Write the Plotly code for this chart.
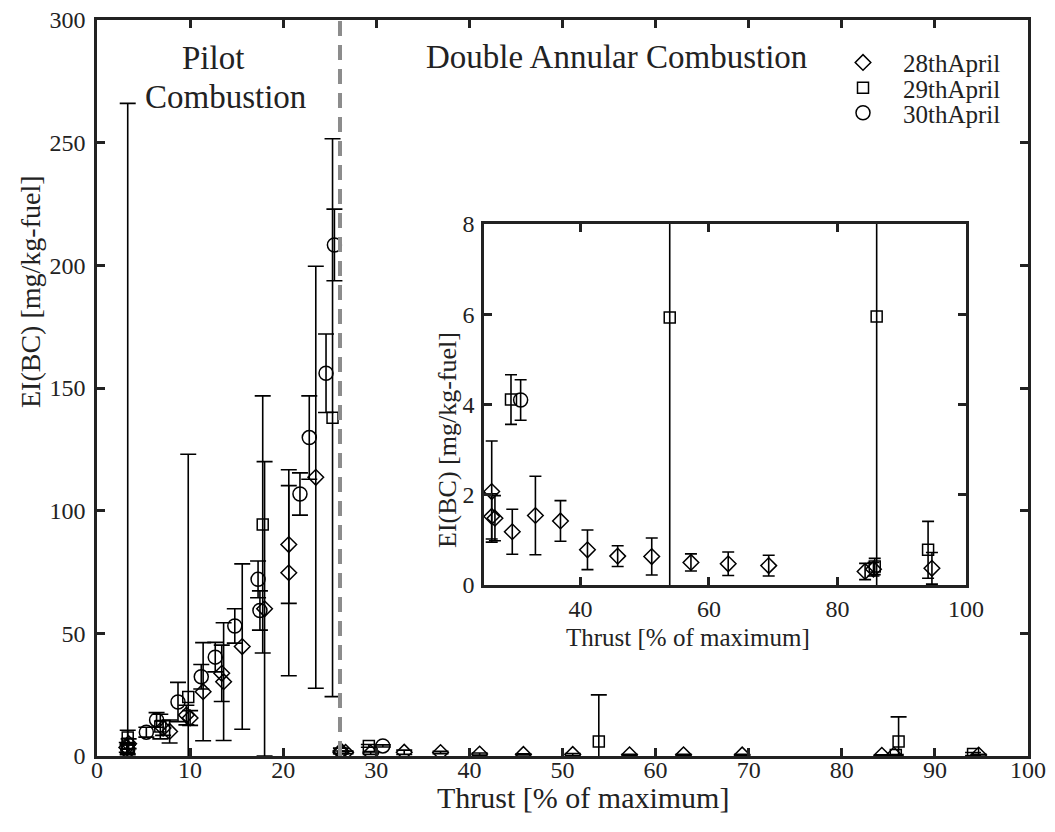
import plotly.graph_objects as go

# ---------------- data ----------------
# 28th April (diamonds)
x28 = [3.2, 3.4, 7.1, 7.8, 9.6, 10.0, 11.4, 13.4, 13.6, 15.6, 18.0, 20.6, 20.6, 23.5,
       26.2, 26.2, 26.7, 29.4, 33.0, 36.9, 41.1, 45.8, 51.1, 57.2, 63.0, 69.3, 84.3, 85.6, 94.7]
y28 = [3.5, 5.0, 11.4, 10.0, 16.7, 15.5, 26.2, 33.7, 30.3, 44.6, 60.0, 86.2, 74.7, 113.6,
       2.07, 1.52, 1.48, 1.18, 1.54, 1.42, 0.78, 0.64, 0.63, 0.50, 0.47, 0.43, 0.30, 0.35, 0.37]
e28 = [2.0, 2.0, 3.0, 4.7, 4.0, 3.0, 20.0, 11.5, 24.0, 33.7, 60.0, 24.0, 42.0, 86.0,
       1.12, 0.50, 0.50, 0.50, 0.87, 0.45, 0.44, 0.23, 0.41, 0.19, 0.26, 0.23, 0.18, 0.15, 0.35]

# 29th April (squares)
x29 = [3.3, 3.3, 3.3, 6.8, 9.8, 17.8, 25.3, 29.2, 53.9, 85.8, 86.1, 94.1]
y29 = [5.0, 7.5, 3.0, 12.0, 24.0, 94.4, 137.9, 4.11, 5.93, 0.41, 5.95, 0.78]
e29 = [261.0, 3.0, 2.0, 5.0, 99.0, 52.4, 113.7, 0.55, 19.0, 0.18, 10.0, 0.63]

# 30th April (circles)
x30 = [3.3, 5.3, 6.4, 8.7, 11.2, 12.7, 14.8, 17.3, 17.5, 21.8, 22.8, 24.6, 25.5, 30.7]
y30 = [2.5, 9.7, 14.7, 22.0, 32.3, 40.3, 53.0, 72.0, 59.3, 106.8, 129.8, 156.0, 208.3, 4.1]
e30 = [2.0, 2.0, 3.0, 8.0, 5.0, 6.0, 7.0, 7.5, 8.0, 8.6, 17.0, 16.0, 14.6, 0.45]

names = ["28thApril", "29thApril", "30thApril"]
main_xticks = list(range(0, 101, 10))
main_yticks = list(range(0, 301, 50))
inset_xticks = [40, 60, 80, 100]
inset_yticks = [0, 2, 4, 6, 8]
mode_switch = 26.1  # pilot / double annular boundary
inset_min = 25

FONT = "Liberation Serif, Times New Roman, serif"
INK = "#222"

# page is shown with an 8px body margin; plot area in page pixels: x 97..1028, y 20..756
PL, PR, PT, PB = 97, 1028, 20, 756


def px(xp):
    return (xp - PL) / (PR - PL)


def py(yp):
    return (PB - yp) / (PB - PT)


series = [
    (x28, y28, e28, "diamond-open", 12),
    (x29, y29, e29, "square-open", 11),
    (x30, y30, e30, "circle-open", 14),
]
legend_ids = ["legend", "legend2", "legend3"]
legend_rows = [py(62.7), py(88), py(113)]

fig = go.Figure()
for (xs, ys, es, sym, sz), nm, lg in zip(series, names, legend_ids):
    fig.add_trace(go.Scatter(
        x=xs, y=ys, mode="markers", name=nm, legend=lg,
        marker=dict(symbol=sym, size=sz, color="black", line=dict(width=1.5, color="black")),
        error_y=dict(type="data", array=es, color="black", thickness=1.6, width=8),
        xaxis="x", yaxis="y",
    ))
for (xs, ys, es, sym, sz), nm in zip(series, names):
    sel = [i for i, v in enumerate(xs) if v >= inset_min]
    fig.add_trace(go.Scatter(
        x=[xs[i] for i in sel], y=[ys[i] for i in sel], mode="markers", name=nm,
        showlegend=False,
        marker=dict(symbol=sym, size=sz, color="black", line=dict(width=1.5, color="black")),
        error_y=dict(type="data", array=[es[i] for i in sel], color="black", thickness=1.6, width=6),
        xaxis="x2", yaxis="y2",
    ))

axis_common = dict(showline=True, linecolor=INK, linewidth=2.5, mirror="ticks",
                   ticks="inside", ticklen=8, tickwidth=2.5, tickcolor=INK,
                   showgrid=False, zeroline=False, automargin=False,
                   ticklabeloverflow="allow")

leg_common = dict(x=px(823), xanchor="left", yanchor="middle", bgcolor="rgba(0,0,0,0)",
                  font=dict(family=FONT, size=25, color=INK), itemwidth=70)

W, H = 1047, 824
fig.update_layout(
    width=W, height=H,
    margin=dict(l=PL - 8, r=W - (PR - 8), t=PT - 8, b=H - (PB - 8)),
    paper_bgcolor="white", plot_bgcolor="white",
    font=dict(family=FONT, color=INK),
    xaxis=dict(range=[0, 100], tickvals=main_xticks, domain=[0, 1], ticklabelstandoff=-10,
               tickfont=dict(family=FONT, size=24, color=INK), **axis_common),
    yaxis=dict(range=[0, 300], tickvals=main_yticks, domain=[0, 1], ticklabelstandoff=4,
               tickfont=dict(family=FONT, size=24, color=INK), **axis_common),
    xaxis2=dict(range=[inset_min, 100], tickvals=inset_xticks, domain=[px(484), px(966)], anchor="y2",
                tickfont=dict(family=FONT, size=24, color=INK), **axis_common),
    yaxis2=dict(range=[0, 8], tickvals=inset_yticks, domain=[py(585), py(224)], anchor="x2",
                ticklabelstandoff=2,
                tickfont=dict(family=FONT, size=24, color=INK), **axis_common),
    legend=dict(y=legend_rows[0], **leg_common),
    legend2=dict(y=legend_rows[1], **leg_common),
    legend3=dict(y=legend_rows[2], **leg_common),
    showlegend=True,
)

fig.add_shape(type="line", xref="x", yref="y", x0=mode_switch, x1=mode_switch, y0=0, y1=300,
              line=dict(color="#8c8c8c", width=4, dash="15px,9px"))

texts = [
    # text, page x, page y, size, angle
    ("Pilot", 213, 58, 33, 0),
    ("Combustion", 225, 97, 33, 0),
    ("Double Annular Combustion", 616, 57, 33, 0),
    ("Thrust [% of maximum]", 583, 797, 30, 0),
    ("EI(BC) [mg/kg-fuel]", 30, 292, 28, -90),
    ("Thrust [% of maximum]", 688, 637, 25, 0),
    ("EI(BC) [mg/kg-fuel]", 447, 440, 26, -90),
]
for t, xp, yp, s, ang in texts:
    fig.add_annotation(x=px(xp), y=py(yp), xref="paper", yref="paper", text=t, showarrow=False,
                       xanchor="center", yanchor="middle", textangle=ang,
                       font=dict(family=FONT, size=s, color=INK))

fig.write_html("out.html")
